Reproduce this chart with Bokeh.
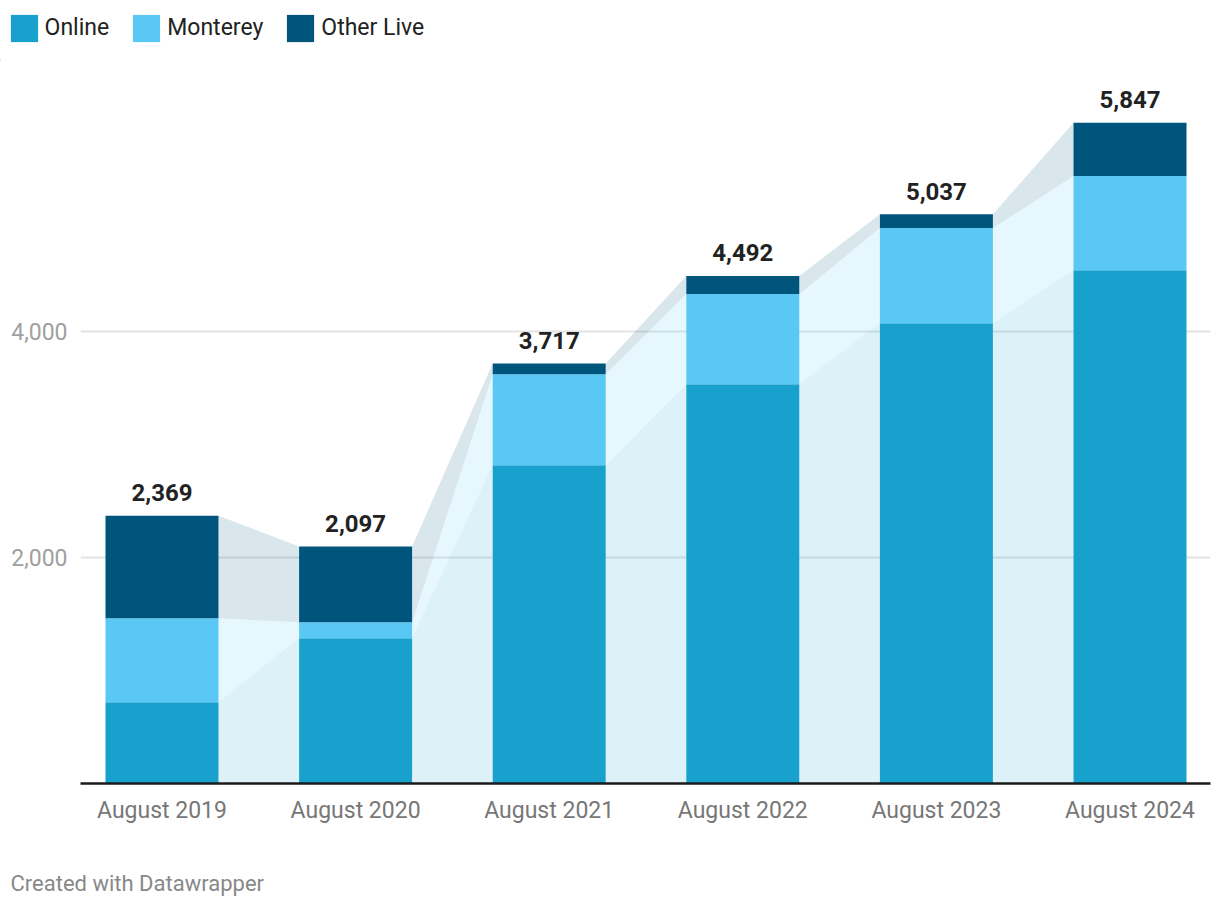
from bokeh.plotting import figure
from bokeh.layouts import column
from bokeh.models import ColumnDataSource, Range1d, FixedTicker, NumeralTickFormatter
from bokeh.core.properties import value
from bokeh.embed import file_html
from bokeh.resources import INLINE

categories = ["August 2019", "August 2020", "August 2021", "August 2022", "August 2023", "August 2024"]
online = [719, 1286, 2817, 3534, 4074, 4543]
monterey = [744, 142, 805, 797, 841, 832]
other_live = [906, 669, 95, 161, 122, 472]
totals = [2369, 2097, 3717, 4492, 5037, 5847]
series_names = ["Online", "Monterey", "Other Live"]
series_colors = ["#18a1cd", "#5ac8f5", "#00557d"]
credit_text = "Created with Datawrapper"

FONT = "Roboto"
xs = list(range(len(categories)))
bar_w = 0.5837


def strip(h):
    f = figure(width=1220, height=h, output_backend="svg", toolbar_location=None,
               x_range=Range1d(0, 1220), y_range=Range1d(0, h),
               x_axis_location=None, y_axis_location=None,
               min_border_left=0, min_border_right=0, min_border_top=0, min_border_bottom=0)
    f.outline_line_color = None
    f.grid.visible = False
    f.frame_align = False
    return f


# ---- legend strip ----
lp = strip(60)
for name, col in zip(series_names, series_colors):
    lp.vbar(x=[-100], top=[1], width=1, fill_color=col, line_color=None, legend_label=name)
lg = lp.legend[0]
lg.orientation = "horizontal"
lg.location = (6.6, 15.5)
lg.padding = 0
lg.margin = 0
lg.spacing = 20
lg.label_standoff = 4
lg.glyph_width = 34
lg.glyph_height = 34
lg.label_height = 34
lg.label_text_font = FONT
lg.label_text_font_size = "23px"
lg.label_text_color = "#222222"
lg.border_line_alpha = 0
lg.background_fill_alpha = 0

# ---- main chart ----
p = figure(width=1220, height=773, output_backend="svg", toolbar_location=None,
           x_range=Range1d(-0.42097, 5.4158), y_range=Range1d(0, 6398.2),
           min_border_left=80, min_border_right=10, min_border_top=0, min_border_bottom=50)
p.frame_align = False
p.outline_line_color = None
p.background_fill_color = "white"
p.border_fill_color = "white"

series = [online, monterey, other_live]
lower = [0] * len(xs)
for vals, col in zip(series, series_colors):
    upper = [l + v for l, v in zip(lower, vals)]
    for i in range(len(xs) - 1):
        p.varea(x=[xs[i] + bar_w / 2, xs[i + 1] - bar_w / 2],
                y1=[lower[i], lower[i + 1]], y2=[upper[i], upper[i + 1]],
                fill_color=col, fill_alpha=0.15)
    lower = upper

src = ColumnDataSource(dict(x=xs, online=online, monterey=monterey, other=other_live,
                            total=totals, label=[f"{t:,}" for t in totals]))
p.vbar_stack(["online", "monterey", "other"], x="x", width=bar_w, color=series_colors,
             line_color=None, source=src)

p.text(x="x", y="total", text="label", source=src, text_align="center",
       text_baseline="alphabetic", y_offset=-23, text_font=value(FONT),
       text_font_size="24px", text_font_style="bold", text_color="#222222")

p.xaxis.ticker = FixedTicker(ticks=xs)
p.xaxis.major_label_overrides = {i: c for i, c in enumerate(categories)}
p.xaxis.major_label_text_font = FONT
p.xaxis.major_label_text_font_size = "23px"
p.xaxis.major_label_text_color = "#777777"
p.xaxis.major_label_standoff = 7
p.xaxis.major_tick_line_color = None
p.xaxis.minor_tick_line_color = None
p.xaxis.axis_line_color = "#1a1a1a"
p.xaxis.axis_line_width = 2.3

p.yaxis.ticker = FixedTicker(ticks=[2000, 4000])
p.yaxis.formatter = NumeralTickFormatter(format="0,0")
p.yaxis.major_label_text_font = FONT
p.yaxis.major_label_text_font_size = "23px"
p.yaxis.major_label_text_color = "#a0a0a0"
p.yaxis.major_label_standoff = 7
p.yaxis.major_tick_line_color = None
p.yaxis.minor_tick_line_color = None
p.yaxis.axis_line_color = None

p.xgrid.grid_line_color = None
p.ygrid.ticker = FixedTicker(ticks=[2000, 4000])
p.ygrid.grid_line_color = "#e3e3e3"
p.ygrid.grid_line_width = 2

# ---- credit strip ----
cp = strip(72)
cp.text(x=[10], y=[22], text=[credit_text], text_font=value(FONT), text_font_size="22px",
        text_color="#888888", text_baseline="alphabetic", text_align="left")

layout = column(lp, p, cp, spacing=0)
open("out.html", "w").write(file_html(layout, INLINE))
